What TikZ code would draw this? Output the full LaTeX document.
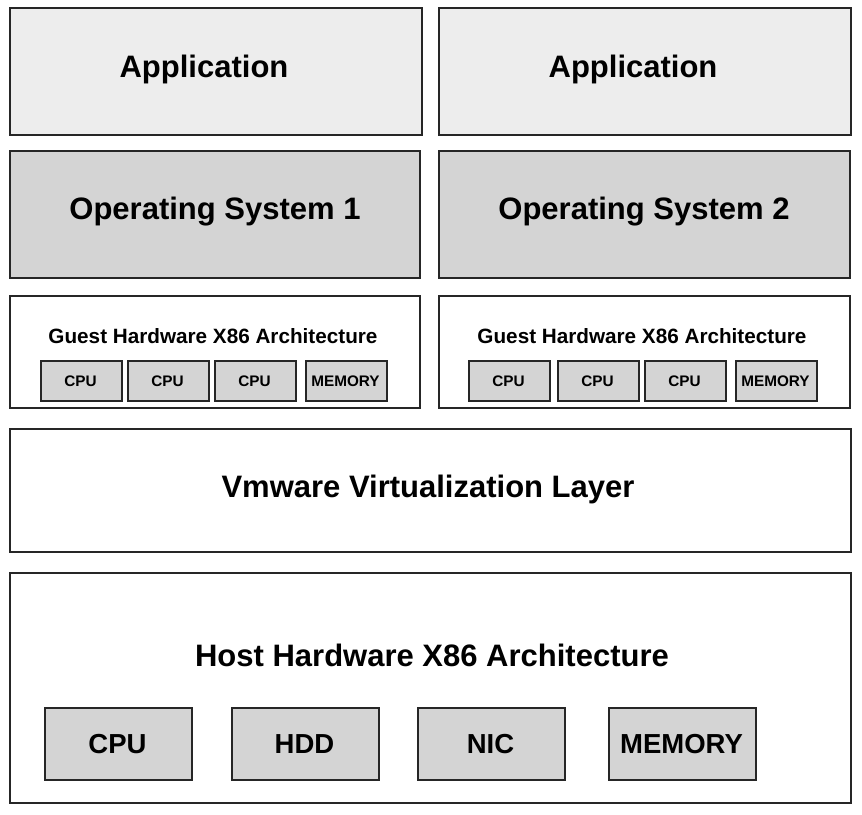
\documentclass[tikz,border=0pt]{standalone}
\usepackage{fontspec}
\setmainfont{Liberation Sans}
\begin{document}
\begin{tikzpicture}[x=1pt,y=-1pt,
  base/.style={draw=black!85,line width=1.8pt,inner sep=0pt,anchor=north west,font=\bfseries},
  appbox/.style={base,fill=black!7},
  osbox/.style={base,fill=black!17},
  plainbox/.style={base,fill=white},
  chip/.style={base,fill=black!17,line width=1.6pt},
  bigtxt/.style={font=\fontsize{31}{31}\selectfont\bfseries,inner sep=0pt},
  midtxt/.style={font=\fontsize{20.7}{21}\selectfont\bfseries,inner sep=0pt},
  smalltxt/.style={font=\fontsize{15.3}{15}\selectfont\bfseries,inner sep=0pt},
  hosttxt/.style={font=\fontsize{27.5}{27}\selectfont\bfseries,inner sep=0pt}]
\useasboundingbox (0,0) rectangle (862,814);
% Application
\node[appbox,minimum width=412,minimum height=127] (app1) at (9,7) {};
\node[appbox,minimum width=412,minimum height=127] (app2) at (438,7) {};
\node[bigtxt] (app1t) at (204,69) {Application};
\node[bigtxt] (app2t) at (633,69) {Application};
% OS
\node[osbox,minimum width=410,minimum height=127] (os1) at (9,150) {};
\node[osbox,minimum width=411,minimum height=127] (os2) at (438,150) {};
\node[bigtxt] (os1t) at (215,212) {Operating System 1};
\node[bigtxt] (os2t) at (644,212) {Operating System 2};
% Guest hardware
\node[plainbox,minimum width=410,minimum height=112] (g1) at (9,295) {};
\node[plainbox,minimum width=411,minimum height=112] (g2) at (438,295) {};
\node[midtxt] (g1t) at (213,336) {Guest Hardware X86 Architecture};
\node[midtxt] (g2t) at (642,336) {Guest Hardware X86 Architecture};
\foreach \x/\t/\n in {40/CPU/a,127/CPU/b,214/CPU/c,305/MEMORY/d}{
  \node[chip,minimum width=81,minimum height=40] (l\n) at (\x,360) {};
  \node[smalltxt] (l\n t) at (\x+40.5,381) {\t};
}
\foreach \x/\t/\n in {468/CPU/a,557/CPU/b,644/CPU/c,735/MEMORY/d}{
  \node[chip,minimum width=81,minimum height=40] (r\n) at (\x,360) {};
  \node[smalltxt] (r\n t) at (\x+40.5,381) {\t};
}
% Vmware layer
\node[plainbox,minimum width=841,minimum height=123] (vm) at (9,428) {};
\node[bigtxt] (vmt) at (428,489) {Vmware Virtualization Layer};
% Host
\node[plainbox,minimum width=841,minimum height=230] (host) at (9,572) {};
\node[bigtxt] (hostt) at (432,655) {Host Hardware X86 Architecture};
\foreach \x/\t/\n in {44/CPU/a,231/HDD/b,417/NIC/c,608/MEMORY/d}{
  \node[chip,line width=1.8pt,minimum width=147,minimum height=72] (h\n) at (\x,707) {};
  \node[hosttxt] (h\n t) at (\x+73.5,744) {\t};
}
\end{tikzpicture}
\end{document}
